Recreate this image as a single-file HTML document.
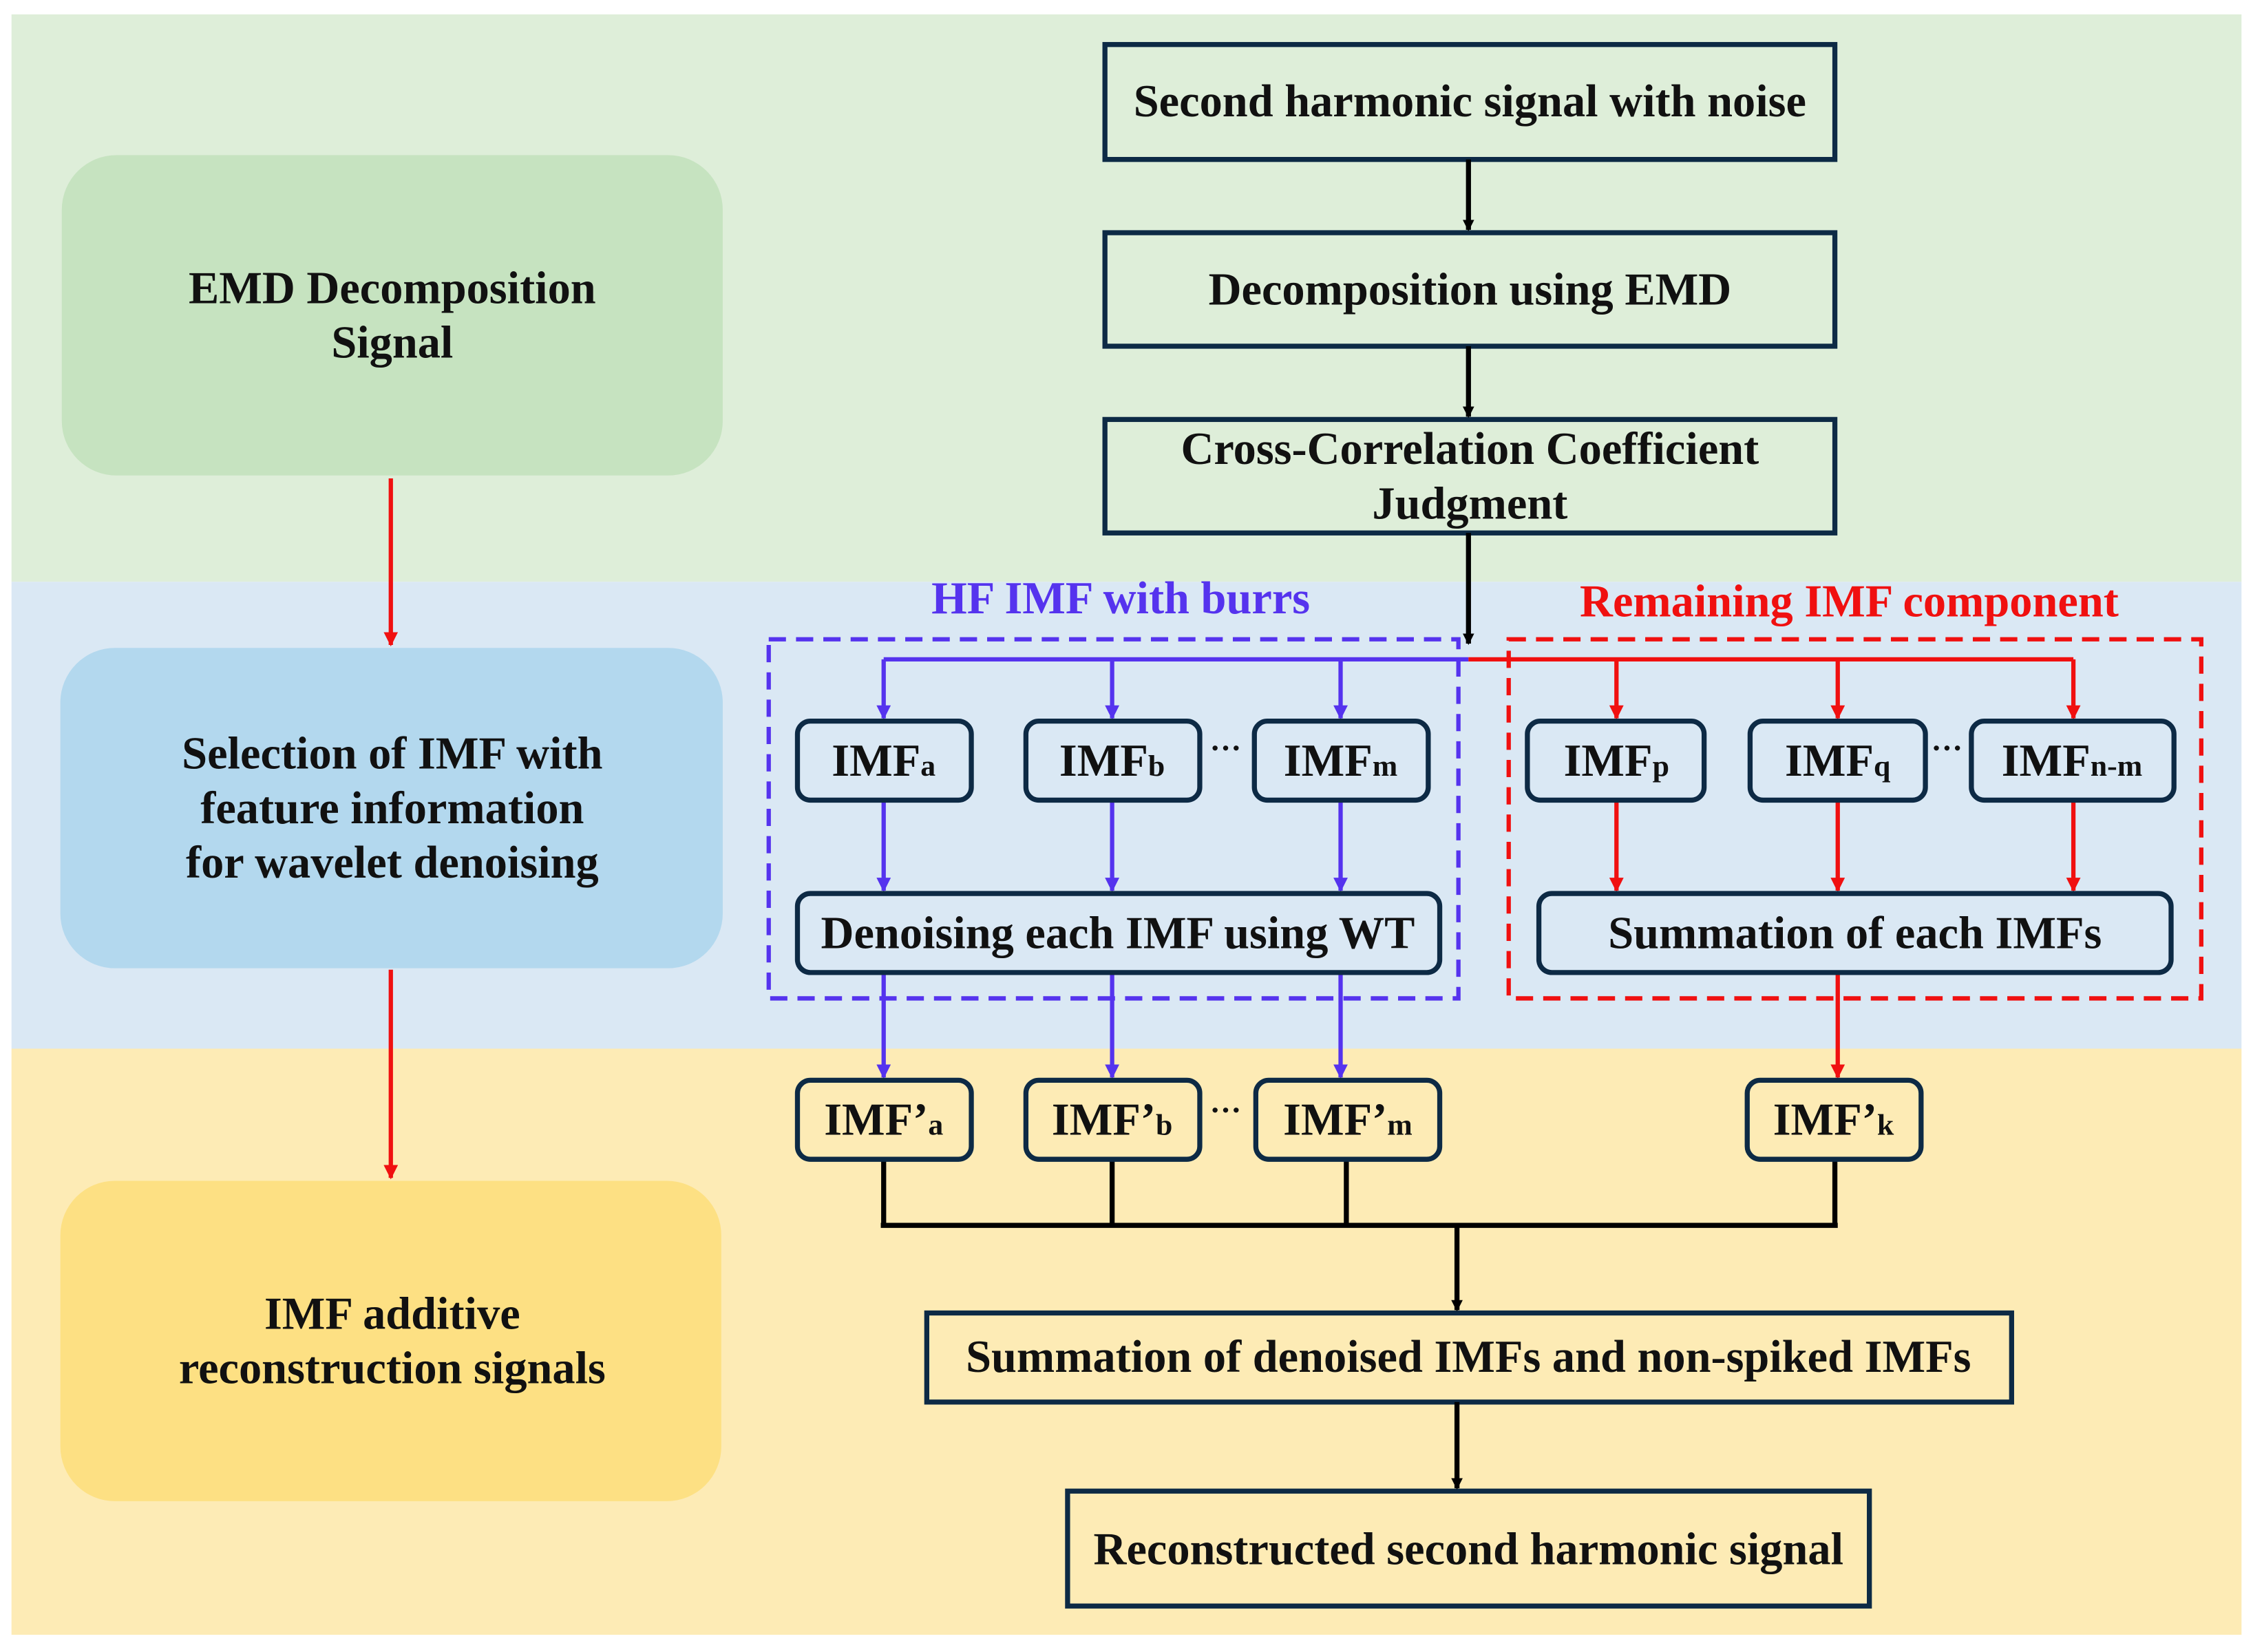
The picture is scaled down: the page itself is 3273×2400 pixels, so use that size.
<!DOCTYPE html>
<html><head><meta charset="utf-8"><style>
html,body{margin:0;padding:0;background:#fff;}
svg{display:block;}
text{font-family:"Liberation Serif",serif;font-weight:bold;}
</style></head><body>
<svg width="3273" height="2400" viewBox="0 0 1568 1150" preserveAspectRatio="none" xmlns="http://www.w3.org/2000/svg">
<defs>
<marker id="ak" markerWidth="8" markerHeight="8" refX="7" refY="4" orient="auto" markerUnits="userSpaceOnUse"><path d="M0,0 L8,4 L0,8 Z" fill="#000"/></marker>
<marker id="ar" markerWidth="10" markerHeight="10" refX="9" refY="5" orient="auto" markerUnits="userSpaceOnUse"><path d="M0,0 L10,5 L0,10 Z" fill="#f01010"/></marker>
<marker id="ab" markerWidth="10" markerHeight="10" refX="9" refY="5" orient="auto" markerUnits="userSpaceOnUse"><path d="M0,0 L10,5 L0,10 Z" fill="#5533ee"/></marker>
</defs>
<rect x="0" y="0" width="1568" height="1150" fill="#fff"/>
<rect x="8" y="10" width="1552" height="395" fill="#deeed9"/>
<rect x="8" y="405" width="1552" height="325" fill="#dae8f4"/>
<rect x="8" y="730" width="1552" height="408" fill="#fdebb5"/>

<rect x="43" y="108" width="460" height="223" rx="38" fill="#c6e3c0"/>
<rect x="42" y="451" width="461" height="223" rx="38" fill="#b3d8ee"/>
<rect x="42" y="822" width="460" height="223" rx="38" fill="#fde083"/>
<g font-size="31.8" text-anchor="middle" fill="#111">
<text x="273" y="211">EMD Decomposition</text><text x="273" y="249">Signal</text>
<text x="273" y="535">Selection of IMF with</text><text x="273" y="573">feature information</text><text x="273" y="611">for wavelet denoising</text>
<text x="273" y="925">IMF additive</text><text x="273" y="963">reconstruction signals</text>
</g>
<g stroke="#f01010" stroke-width="3">
<line x1="272" y1="333" x2="272" y2="449" marker-end="url(#ar)"/>
<line x1="272" y1="675" x2="272" y2="820" marker-end="url(#ar)"/>
</g>

<g fill="none" stroke="#0d2a45" stroke-width="3.5">
<rect x="769" y="31" width="508" height="80"/>
<rect x="769" y="162" width="508" height="79"/>
<rect x="769" y="292" width="508" height="79"/>
<rect x="645" y="914" width="755" height="62"/>
<rect x="743" y="1038" width="558" height="80"/>
</g>
<g font-size="31.8" text-anchor="middle" fill="#111">
<text x="1023" y="81">Second harmonic signal with noise</text>
<text x="1023" y="212">Decomposition using EMD</text>
<text x="1023" y="323">Cross-Correlation Coefficient</text>
<text x="1023" y="361">Judgment</text>
<text x="1022" y="955">Summation of denoised IMFs and non-spiked IMFs</text>
<text x="1022" y="1089">Reconstructed second harmonic signal</text>
</g>
<g stroke="#000" stroke-width="3.5" fill="none">
<line x1="1022" y1="111" x2="1022" y2="160" marker-end="url(#ak)"/>
<line x1="1022" y1="241" x2="1022" y2="290" marker-end="url(#ak)"/>
<line x1="1022" y1="371" x2="1022" y2="448" marker-end="url(#ak)"/>
<line x1="615" y1="807" x2="615" y2="853"/><line x1="774" y1="807" x2="774" y2="853"/>
<line x1="937" y1="807" x2="937" y2="853"/><line x1="1277" y1="807" x2="1277" y2="853"/>
<line x1="613" y1="853" x2="1279" y2="853"/>
<line x1="1014" y1="853" x2="1014" y2="912" marker-end="url(#ak)"/>
<line x1="1014" y1="976" x2="1014" y2="1036" marker-end="url(#ak)"/>
</g>

<rect x="535" y="445" width="480" height="250" fill="none" stroke="#5533ee" stroke-width="3" stroke-dasharray="12,7"/>
<rect x="1050" y="445" width="482" height="250" fill="none" stroke="#f01010" stroke-width="3" stroke-dasharray="12,7"/>
<text x="780" y="427" font-size="31.8" text-anchor="middle" fill="#5533ee">HF IMF with burrs</text>
<text x="1287" y="429" font-size="31.8" text-anchor="middle" fill="#f01010">Remaining IMF component</text>

<g stroke="#5533ee" stroke-width="3" fill="none">
<line x1="615" y1="459" x2="1022" y2="459"/>
<line x1="615" y1="459" x2="615" y2="500" marker-end="url(#ab)"/>
<line x1="774" y1="459" x2="774" y2="500" marker-end="url(#ab)"/>
<line x1="933" y1="459" x2="933" y2="500" marker-end="url(#ab)"/>
<line x1="615" y1="557" x2="615" y2="620" marker-end="url(#ab)"/>
<line x1="774" y1="557" x2="774" y2="620" marker-end="url(#ab)"/>
<line x1="933" y1="557" x2="933" y2="620" marker-end="url(#ab)"/>
<line x1="615" y1="677" x2="615" y2="750" marker-end="url(#ab)"/>
<line x1="774" y1="677" x2="774" y2="750" marker-end="url(#ab)"/>
<line x1="933" y1="677" x2="933" y2="750" marker-end="url(#ab)"/>
</g>
<g stroke="#f01010" stroke-width="3" fill="none">
<line x1="1022" y1="459" x2="1443" y2="459"/>
<line x1="1125" y1="459" x2="1125" y2="500" marker-end="url(#ar)"/>
<line x1="1279" y1="459" x2="1279" y2="500" marker-end="url(#ar)"/>
<line x1="1443" y1="459" x2="1443" y2="500" marker-end="url(#ar)"/>
<line x1="1125" y1="557" x2="1125" y2="620" marker-end="url(#ar)"/>
<line x1="1279" y1="557" x2="1279" y2="620" marker-end="url(#ar)"/>
<line x1="1443" y1="557" x2="1443" y2="620" marker-end="url(#ar)"/>
<line x1="1279" y1="677" x2="1279" y2="750" marker-end="url(#ar)"/>
</g>

<g fill="none" stroke="#0d2a45" stroke-width="3.5">
<rect x="555" y="502" width="121" height="55" rx="9"/>
<rect x="714" y="502" width="121" height="55" rx="9"/>
<rect x="873" y="502" width="121" height="55" rx="9"/>
<rect x="1063" y="502" width="123" height="55" rx="9"/>
<rect x="1218" y="502" width="122" height="55" rx="9"/>
<rect x="1372" y="502" width="141" height="55" rx="9"/>
<rect x="555" y="622" width="447" height="55" rx="9"/>
<rect x="1071" y="622" width="440" height="55" rx="9"/>
<rect x="555" y="752" width="121" height="55" rx="9"/>
<rect x="714" y="752" width="121" height="55" rx="9"/>
<rect x="874" y="752" width="128" height="55" rx="9"/>
<rect x="1216" y="752" width="121" height="55" rx="9"/>
</g>
<g font-size="31.8" text-anchor="middle" fill="#111">
<text x="615" y="540">IMF<tspan font-size="21">a</tspan></text>
<text x="774" y="540">IMF<tspan font-size="21">b</tspan></text>
<text x="933" y="540">IMF<tspan font-size="21">m</tspan></text>
<text x="1125" y="540">IMF<tspan font-size="21">p</tspan></text>
<text x="1279" y="540">IMF<tspan font-size="21">q</tspan></text>
<text x="1442" y="540">IMF<tspan font-size="21">n-m</tspan></text>
<text x="778" y="660">Denoising each IMF using WT</text>
<text x="1291" y="660">Summation of each IMFs</text>
<text x="615" y="790">IMF’<tspan font-size="21">a</tspan></text>
<text x="774" y="790">IMF’<tspan font-size="21">b</tspan></text>
<text x="938" y="790">IMF’<tspan font-size="21">m</tspan></text>
<text x="1276" y="790">IMF’<tspan font-size="21">k</tspan></text>
<text x="853" y="528" font-size="22">···</text>
<text x="1355" y="528" font-size="22">···</text>
<text x="853" y="780" font-size="22">···</text>
</g>
</svg>
</body></html>
